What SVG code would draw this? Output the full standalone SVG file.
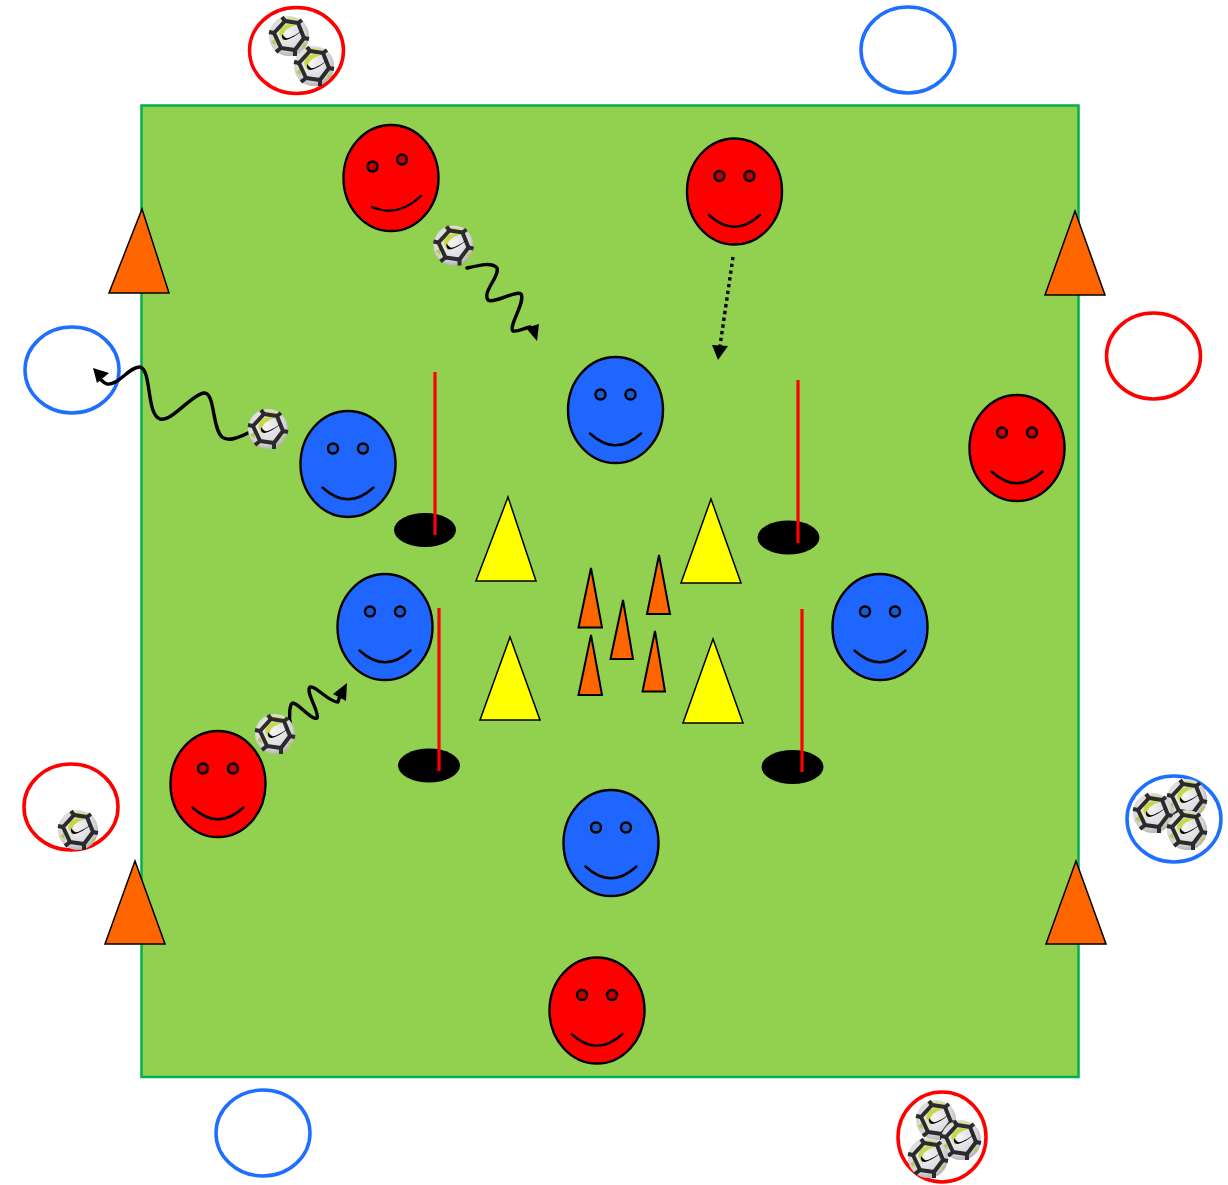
<svg xmlns="http://www.w3.org/2000/svg" width="1228" height="1185" viewBox="0 0 1228 1185">
<style>
.ring{fill:none;stroke-width:3.5}
.r{stroke:#ff0000}.b{stroke:#1f6fff}
.bigcone{fill:#ff6600;stroke:#000;stroke-width:1.5}
.ycone{fill:#ffff00;stroke:#000;stroke-width:1.5}
.smcone{fill:#ff6600;stroke:#000;stroke-width:2}
.hole{fill:#000}
.pole{stroke:#ff0000;stroke-width:3.2;fill:none}
.head{fill:#ff0000;stroke:#000;stroke-width:2.4}
.bhead{fill:#1f66ff;stroke:#000;stroke-width:2.4}
.eyer{fill:#c00000;stroke:#000;stroke-width:2.4}
.eyeb{fill:#1a5ad0;stroke:#000;stroke-width:2.4}
.mouth{fill:none;stroke:#000;stroke-width:2.4;stroke-linecap:round}
.wave{fill:none;stroke:#000;stroke-width:3.4;stroke-linecap:round;stroke-linejoin:round}
.tip{fill:#000}
</style>
<defs>
<radialGradient id="bg" cx="0.45" cy="0.42" r="0.62"><stop offset="0" stop-color="#f4f4f6"/><stop offset="0.72" stop-color="#d8d8dc"/><stop offset="1" stop-color="#a8a8ac"/></radialGradient>
<symbol id="ball" overflow="visible">
<circle r="20" fill="url(#bg)"/>
<path d="M-10,-2 Q-9,-11 0,-12 L7,-11 Q0,-9 -4,-5 Q-7,-1 -5,6 Z" fill="#c9d84a"/>
<path d="M-9,-16 Q0,-20 9,-16 L6,-14 L-6,-14 Z" fill="#d6de7a"/>
<path d="M13,9 L18,8 L15,13 Z M-18,6 L-14,3 L-13,10 Z" fill="#b8c850"/>
<path d="M-4,-15 L9,-13 L15,2 L6,14 L-8,12 L-15,-3 Z" fill="none" stroke="#2b2b2b" stroke-width="4" stroke-linejoin="round"/>
<path d="M-4,-15 L-7,-19 M9,-13 L13,-16 M15,2 L20,3 M6,14 L6,20 M-8,12 L-13,16 M-15,-3 L-20,-4" fill="none" stroke="#2b2b2b" stroke-width="4"/>
<path d="M-7,-2 C-8,6 -2,7 14,-6 C5,0 -1,3 -3,2 C-5,1 -6,-1 -7,-2 Z" fill="#000"/>
</symbol>
<g id="rface"><ellipse rx="47.5" ry="53" class="head"/><circle cx="-15" cy="-15.5" r="5" class="eyer"/><circle cx="15" cy="-15.5" r="5" class="eyer"/><path d="M-25.5,23.5 Q0,47 25.5,23.5" class="mouth"/></g>
<g id="bface"><ellipse rx="47.5" ry="53" class="bhead"/><circle cx="-15" cy="-15.5" r="5" class="eyeb"/><circle cx="15" cy="-15.5" r="5" class="eyeb"/><path d="M-25.5,23.5 Q0,47 25.5,23.5" class="mouth"/></g>
</defs>
<g id="field"><rect x="141.5" y="105.5" width="937" height="971.5" fill="#92d050" stroke="#00b050" stroke-width="2.5"/></g>
<g id="rings">
<ellipse id="ring1" cx="296.5" cy="50.5" rx="47" ry="43" class="ring r"/>
<ellipse id="ring2" cx="908" cy="50" rx="47" ry="43" class="ring b"/>
<ellipse id="ring3" cx="1153.5" cy="356" rx="47" ry="43" class="ring r"/>
<ellipse id="ring4" cx="72" cy="370" rx="47" ry="43" class="ring b"/>
<ellipse id="ring5" cx="71" cy="807" rx="47" ry="43" class="ring r"/>
<ellipse id="ring6" cx="1174" cy="819" rx="47" ry="43" class="ring b"/>
<ellipse id="ring7" cx="263" cy="1133" rx="47" ry="43" class="ring b"/>
<ellipse id="ring8" cx="942" cy="1137" rx="44" ry="45" class="ring r"/>
</g>
<g id="cones">
<polygon id="cone1" points="142,209 109,293 169,293" class="bigcone"/>
<polygon id="cone2" points="1075,211 1045,295 1105,295" class="bigcone"/>
<polygon id="cone3" points="135,861 105,944 165,944" class="bigcone"/>
<polygon id="cone4" points="1076,861 1046,944 1106,944" class="bigcone"/>
<polygon id="ycone1" points="508,497 476,581 536,581" class="ycone"/>
<polygon id="ycone2" points="711,499 681,583 741,583" class="ycone"/>
<polygon id="ycone3" points="510,637 480,720 540,720" class="ycone"/>
<polygon id="ycone4" points="713,639 683,723 743,723" class="ycone"/>
<polygon id="scone1" points="591,568 578.5,627.5 602,627.5" class="smcone"/>
<polygon id="scone2" points="659,555 647,614 670,614" class="smcone"/>
<polygon id="scone3" points="623,600 610.5,659 633,659" class="smcone"/>
<polygon id="scone4" points="591,635 578.5,695 602,695" class="smcone"/>
<polygon id="scone5" points="655,631 642.5,691.5 665,691.5" class="smcone"/>
</g>
<g id="goals">
<ellipse cx="425" cy="530" rx="31" ry="17" class="hole"/>
<ellipse cx="788.5" cy="537.5" rx="31" ry="17" class="hole"/>
<ellipse cx="429" cy="765.5" rx="31" ry="17" class="hole"/>
<ellipse cx="792.5" cy="767" rx="31" ry="17" class="hole"/>
<path d="M435,372V535M798,380V543M439,608V771M802,609V772" class="pole"/>
</g>
<g id="red1"><ellipse cx="391" cy="178" rx="47.5" ry="53" class="head"/><circle cx="372.5" cy="166.5" r="5" class="eyer"/><circle cx="402" cy="159.5" r="5" class="eyer"/><path d="M372,207 Q398,218 421,196" class="mouth"/></g>
<g id="red2"><use href="#rface" x="734.5" y="191.5"/></g>
<g id="red3"><use href="#rface" x="1017" y="448"/></g>
<g id="red4"><use href="#rface" x="218" y="784"/></g>
<g id="red5"><use href="#rface" x="597" y="1010.5"/></g>
<g id="blue1"><use href="#bface" x="615.5" y="410"/></g>
<g id="blue2"><use href="#bface" x="348" y="464"/></g>
<g id="blue3"><use href="#bface" x="385" y="627"/></g>
<g id="blue4"><use href="#bface" x="880" y="627"/></g>
<g id="blue5"><use href="#bface" x="611" y="843"/></g>
<g id="connectors">
<path class="wave" d="M467,268 C480,265 492,262 497,268 C500,276 482,292 488,300 C494,304 516,290 521,294 C526,302 508,326 513,331 C518,332 524,328 530,327"/>
<path class="tip" d="M537,341 L526,328 L539,324 Z"/>
<path d="M733,257 L720,346" fill="none" stroke="#000" stroke-width="3.4" stroke-dasharray="3.4 3.4"/>
<path class="tip" d="M718,360 L712,345 L728,346 Z"/>
<path class="wave" d="M248,433 C238,438 228,442 222,437 C212,428 215,392 204,393 C192,394 172,422 160,419 C146,414 152,370 140,367 C130,366 118,386 107,384 C104,383 102,381 100,379"/>
<path class="tip" d="M93,368 L97,383 L109,373 Z"/>
<path class="wave" d="M291,727 C288,715 290,703 293,703 C298,703 312,721 317,718 C320,712 305,692 310,687 C315,685 330,703 338,702 L341,692"/>
<path class="tip" d="M347,683 L333,694 L346,701 Z"/>
</g>
<g id="balls">
<use href="#ball" x="289" y="36"/>
<use href="#ball" x="314" y="66"/>
<use href="#ball" x="453.5" y="245.5"/>
<use href="#ball" x="268" y="429"/>
<use href="#ball" x="275" y="734"/>
<use href="#ball" x="78" y="830"/>
<use href="#ball" x="1187" y="799"/>
<use href="#ball" x="1153" y="813"/>
<use href="#ball" x="1187" y="830"/>
<use href="#ball" x="936" y="1120"/>
<use href="#ball" x="961" y="1140"/>
<use href="#ball" x="928" y="1158"/>
</g>
</svg>
